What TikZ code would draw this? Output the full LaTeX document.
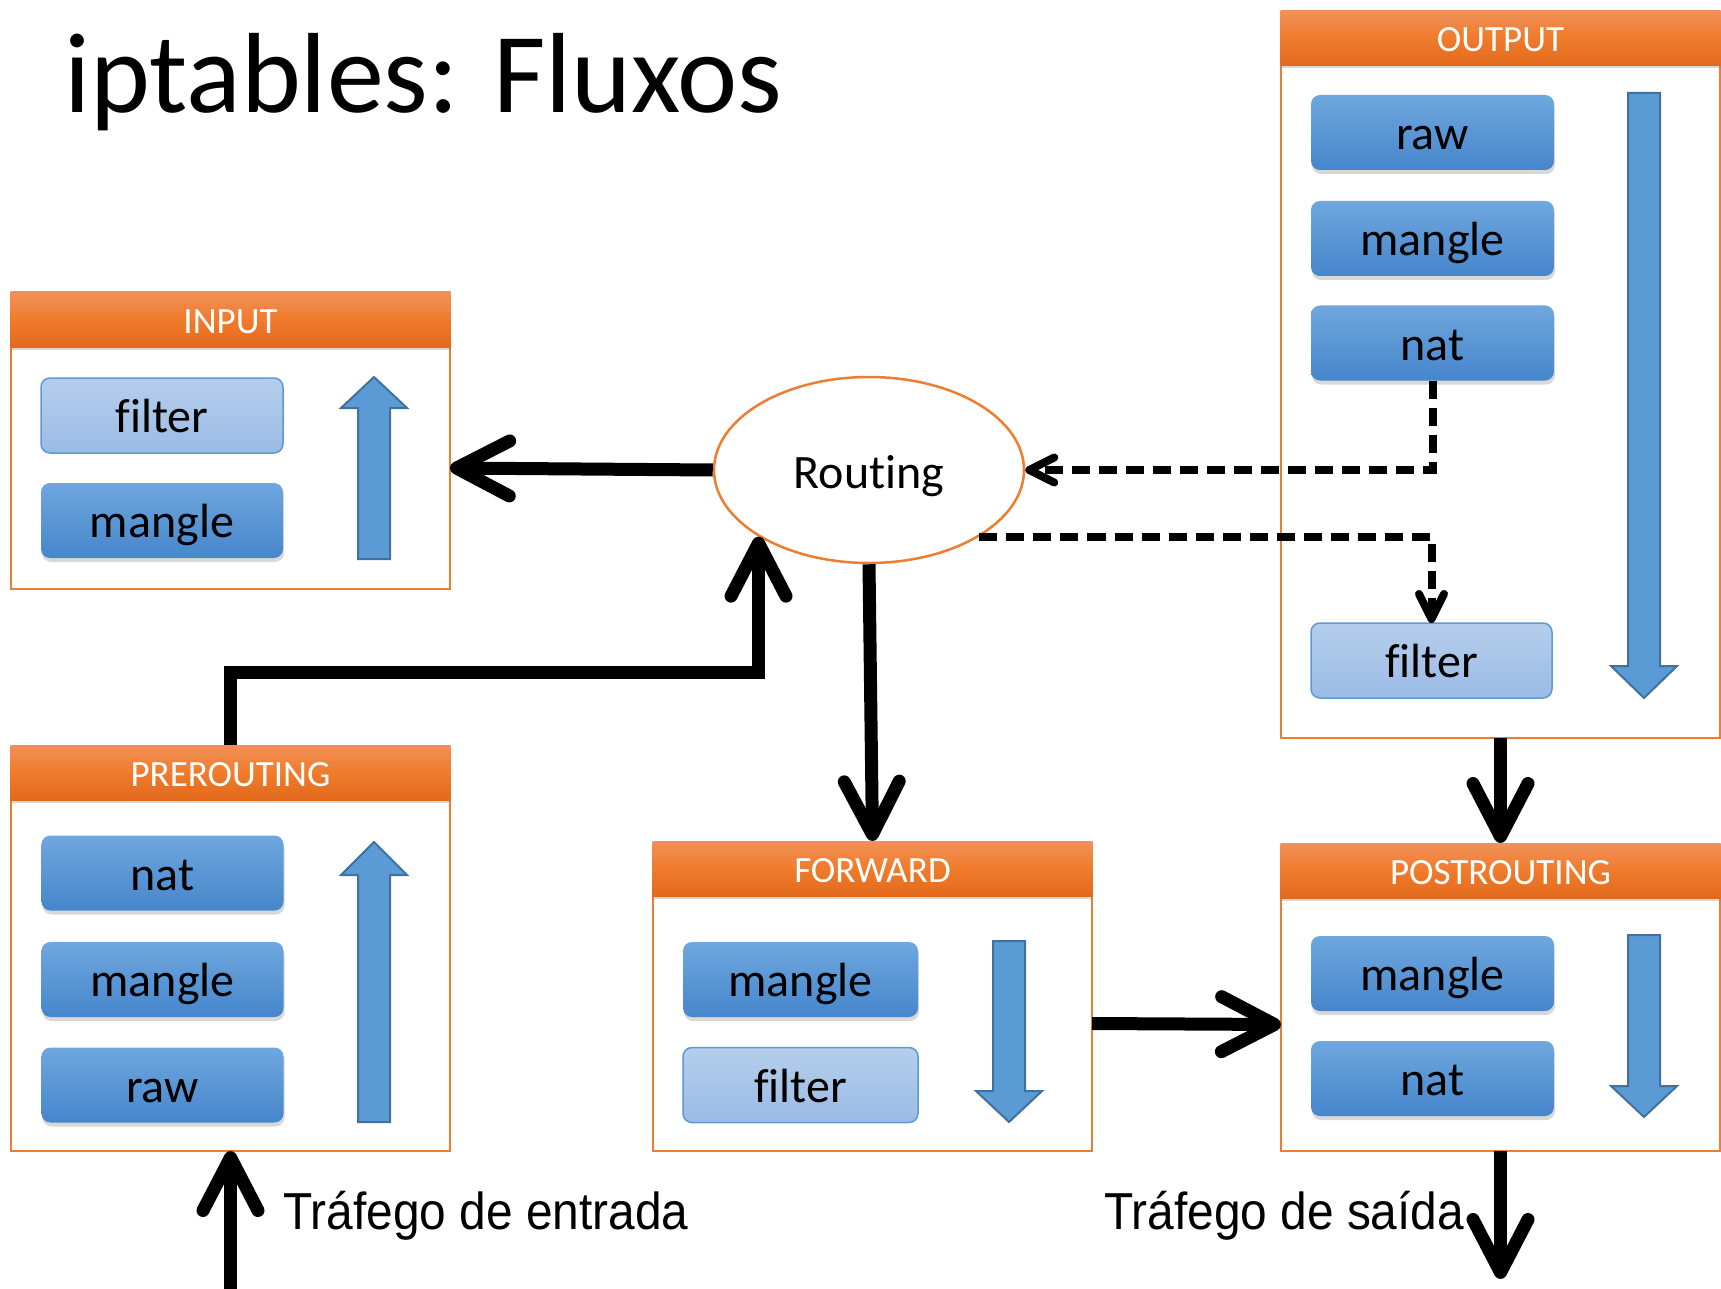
\documentclass[tikz,border=0pt]{standalone}
\usepackage{fontspec}
\setmainfont{Carlito}[Ligatures=NoCommon]
\newfontfamily\arialfont{Liberation Sans}
\usepackage{graphicx}
\usetikzlibrary{arrows.meta,shapes.geometric,shadows}

\definecolor{chainorange}{HTML}{ED7D31}
\definecolor{hdrtop}{HTML}{F0915A}
\definecolor{hdrmid}{HTML}{F07B2B}
\definecolor{hdrbot}{HTML}{E2691C}
\definecolor{tbltop}{HTML}{6FA7DE}
\definecolor{tblbot}{HTML}{4686CC}
\definecolor{flttop}{HTML}{B5CEEB}
\definecolor{fltbot}{HTML}{9BBBE5}
\definecolor{fltedge}{HTML}{5B9BD5}
\definecolor{flowfill}{HTML}{5B9BD5}
\definecolor{flowedge}{HTML}{41719C}

% block arrow showing the traversal order inside a chain: x, tail y, head-base y, tip y
\newcommand\chainflow[4]{%
  \draw[flowarrow] ({#1-16},#2) -- ({#1+16},#2) -- ({#1+16},#3) -- ({#1+33},#3)
    -- (#1,#4) -- ({#1-33},#3) -- ({#1-16},#3) -- cycle;}

\begin{document}
\begin{tikzpicture}[x=1pt,y=-1pt,
  chainbody/.style={draw=chainorange, line width=2.5pt, fill=white,
    minimum width=439pt, inner sep=0pt, outer sep=0pt},
  chainhead/.style={minimum width=440pt, minimum height=55pt, inner sep=0pt, outer sep=0pt,
    top color=hdrtop, bottom color=hdrbot, middle color=hdrmid, text=white,
    font=\fontsize{37}{44}\selectfont, text height=27pt, text depth=0pt,
    drop shadow={shadow xshift=0pt, shadow yshift=-3pt, opacity=0.3}},
  tablebox/.style={rounded corners=9pt, minimum width=242pt, minimum height=75pt,
    inner sep=0pt, outer sep=0pt, top color=tbltop, bottom color=tblbot,
    font=\fontsize{48}{57}\selectfont, text height=34pt, text depth=0pt,
    drop shadow={shadow xshift=1pt, shadow yshift=-4pt, opacity=0.3}},
  filterbox/.style={rounded corners=9pt, minimum width=242pt, minimum height=75pt,
    inner sep=0pt, outer sep=0pt, top color=flttop, bottom color=fltbot,
    draw=fltedge, line width=1.5pt,
    font=\fontsize{48}{57}\selectfont, text height=34pt, text depth=0pt},
  flowarrow/.style={fill=flowfill, draw=flowedge, line width=2pt, line join=miter},
  conn/.style={line width=13pt, line join=miter,
    -{Straight Barb[length=53pt, width=55pt, round]}},
  dconn/.style={line width=8pt, dash pattern=on 18pt off 9pt,
    -{Straight Barb[length=25pt, width=25pt, round]}},
  traffic/.style={font=\arialfont\fontsize{52}{60}\selectfont, inner sep=0pt, anchor=base west}
]
\useasboundingbox (0,0) rectangle (1721,1289);

% title
\node[anchor=base west, inner sep=0pt, font=\fontsize{114}{130}\selectfont] (title) at (64,113) {iptables: Fluxos};

% INPUT chain
\node[chainbody, minimum height=242pt] (inbody) at (230.5,468) {};
\node[chainhead] (inhead) at (230.5,319.5) {INPUT};
\node[filterbox] (infilter) at (162,415.5) {filter};
\node[tablebox] (inmangle) at (162,520.5) {mangle};
\chainflow{374}{559}{408}{377}

% PREROUTING chain
\node[chainbody, minimum height=351pt] (prebody) at (230.5,975.5) {};
\node[chainhead] (prehead) at (230.5,772.5) {PREROUTING};
\node[tablebox] (prenat) at (162.5,873) {nat};
\node[tablebox] (premangle) at (162.5,979.5) {mangle};
\node[tablebox] (preraw) at (162.5,1085) {raw};
\chainflow{374}{1122}{875}{842}

% FORWARD chain
\node[chainbody, minimum height=255pt] (fwdbody) at (872.5,1023.5) {};
\node[chainhead] (fwdhead) at (872.5,868.5) {FORWARD};
\node[tablebox, minimum width=235pt] (fwdmangle) at (800.5,979.5) {mangle};
\node[filterbox, minimum width=235pt] (fwdfilter) at (800.5,1085) {filter};
\chainflow{1009}{941}{1091}{1122}

% POSTROUTING chain
\node[chainbody, minimum height=253pt] (postbody) at (1500.5,1024.5) {};
\node[chainhead] (posthead) at (1500.5,870.5) {POSTROUTING};
\node[tablebox, minimum width=243pt] (postmangle) at (1432.5,973.5) {mangle};
\node[tablebox, minimum width=243pt] (postnat) at (1432.5,1078.5) {nat};
\chainflow{1644}{935}{1086}{1117}

% OUTPUT chain
\node[chainbody, minimum height=673pt] (outbody) at (1500.5,401.5) {};
\node[chainhead] (outhead) at (1500.5,38) {OUTPUT};
\node[tablebox, minimum width=243pt] (oraw) at (1432.5,132.5) {raw};
\node[tablebox, minimum width=243pt] (omangle) at (1432.5,238.5) {mangle};
\node[tablebox, minimum width=243pt] (onat) at (1432.5,343) {nat};
\node[filterbox, minimum width=241pt] (ofilter) at (1431.5,660.5) {filter};
\chainflow{1644}{93}{666}{698}

% routing decision
\node[ellipse, draw=chainorange, line width=2.5pt, fill=white, minimum width=310pt,
  minimum height=186pt, inner sep=0pt, font=\fontsize{48}{57}\selectfont,
  text height=36pt, text depth=0pt] (routing) at (869,470) {Routing};

% packet flow
\coordinate (level) at (0,672);
\coordinate (bend) at (routing.south west |- level);
\coordinate (inbound) at (230.5,1289);
\coordinate (outbound) at (1500.5,1279);

\draw[conn] (routing.west) -- (inbody.east);
\draw[conn] (routing.south) -- (fwdhead.north);
\draw[conn] (prehead.north) |- (bend) -- (routing.south west);
\draw[conn] (fwdbody.east) -- (postbody.west);
\draw[conn] (outbody.south) -- (posthead.north);
\draw[conn] (inbound) -- (prebody.south);
\draw[conn] (postbody.south) -- (outbound);

\draw[dconn] (onat.south) |- (routing.east);
\draw[dconn] (routing.south east) -| (ofilter.north);

% traffic labels
\node[traffic] (inlabel) at (283,1229) {\scalebox{0.92}[1]{Tráfego de entrada}};
\node[traffic] (outlabel) at (1104,1229) {\scalebox{0.92}[1]{Tráfego de saída}};
\end{tikzpicture}
\end{document}
